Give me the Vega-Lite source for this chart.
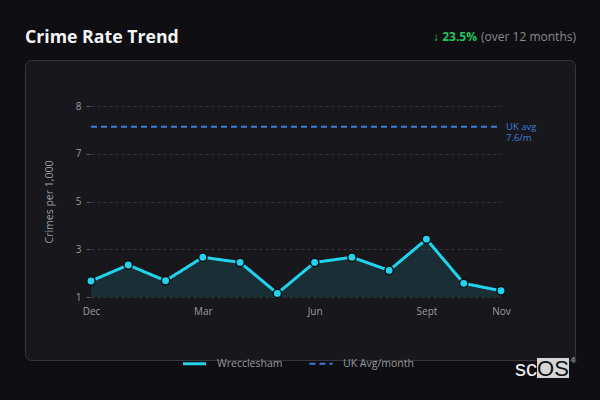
{
  "$schema": "https://vega.github.io/schema/vega-lite/v6.json",
  "width": 550,
  "height": 300,
  "autosize": {"type": "none"},
  "padding": {"left": 25, "top": 60, "right": 25, "bottom": 40},
  "background": "#0e0e13",
  "title": {
    "text": "Crime Rate Trend",
    "anchor": "start",
    "font": "Open Sans",
    "fontSize": 17.7,
    "fontWeight": "bold",
    "color": "#f4f4f5",
    "offset": -16
  },
  "config": {
    "font": "Open Sans",
    "view": {"fill": "#18181c", "stroke": "#37373c", "strokeWidth": 1, "cornerRadius": 6},
    "axis": {
      "labelFont": "Open Sans",
      "labelColor": "#9a9a9e",
      "labelFontSize": 10,
      "titleFont": "Open Sans",
      "titleColor": "#9a9a9e",
      "titleFontSize": 10.5,
      "titleFontWeight": "normal",
      "gridColor": "#34343a",
      "gridDash": [3, 3],
      "gridWidth": 1,
      "tickColor": "#5a5a60",
      "domain": false
    },
    "legend": {
      "orient": "none",
      "legendX": 156,
      "legendY": 290,
      "direction": "horizontal",
      "labelFont": "Open Sans",
      "labelColor": "#9a9a9e",
      "labelFontSize": 10.5,
      "symbolType": "stroke",
      "symbolSize": 530,
      "columnPadding": 22,
      "labelOffset": 9
    }
  },
  "data": {
    "values": [
      {"month": "Dec", "series": "Wrecclesham", "value": 1.62},
      {"month": "Jan", "series": "Wrecclesham", "value": 2.24},
      {"month": "Feb", "series": "Wrecclesham", "value": 1.63},
      {"month": "Mar", "series": "Wrecclesham", "value": 2.54},
      {"month": "Apr", "series": "Wrecclesham", "value": 2.34},
      {"month": "May", "series": "Wrecclesham", "value": 1.14},
      {"month": "Jun", "series": "Wrecclesham", "value": 2.34},
      {"month": "Jul", "series": "Wrecclesham", "value": 2.54},
      {"month": "Aug", "series": "Wrecclesham", "value": 2.03},
      {"month": "Sept", "series": "Wrecclesham", "value": 3.24},
      {"month": "Oct", "series": "Wrecclesham", "value": 1.53},
      {"month": "Nov", "series": "Wrecclesham", "value": 1.24},
      {"month": "Dec", "series": "UK Avg/month", "value": 7.6},
      {"month": "Nov", "series": "UK Avg/month", "value": 7.6, "label": "UK avg\n7.6/m", "change": "↓ 23.5%", "period": "(over 12 months)", "a": "sc", "b": "OS", "r": "®"}
    ]
  },
  "encoding": {
    "x": {
      "field": "month",
      "type": "nominal",
      "title": null,
      "scale": {
        "type": "point",
        "padding": 0,
        "domain": ["Dec", "Jan", "Feb", "Mar", "Apr", "May", "Jun", "Jul", "Aug", "Sept", "Oct", "Nov"],
        "range": [66, 476]
      },
      "axis": {
        "values": ["Dec", "Mar", "Jun", "Sept", "Nov"],
        "offset": -63,
        "ticks": false,
        "grid": false,
        "labelPadding": 9,
        "labelAngle": 0
      }
    },
    "y": {
      "field": "value",
      "type": "quantitative",
      "title": "Crimes per 1,000",
      "scale": {"domain": [1, 8.4], "range": [237, 46], "nice": false, "zero": false},
      "axis": {
        "values": [1, 2.85, 4.7, 6.55, 8.4],
        "format": ".0f",
        "offset": -65,
        "grid": true,
        "ticks": true,
        "tickSize": 4,
        "labelPadding": 5,
        "titlePadding": 21
      }
    }
  },
  "layer": [
    {
      "transform": [{"filter": "datum.series === 'Wrecclesham'"}],
      "mark": {"type": "area", "color": "#22d3ee", "opacity": 0.12},
      "encoding": {"y2": {"datum": 1}}
    },
    {
      "mark": {"type": "line"},
      "encoding": {
        "color": {
          "field": "series",
          "type": "nominal",
          "title": null,
          "scale": {"domain": ["Wrecclesham", "UK Avg/month"], "range": ["#22d3ee", "#3b7ddd"]}
        },
        "strokeDash": {
          "field": "series",
          "type": "nominal",
          "title": null,
          "scale": {"domain": ["Wrecclesham", "UK Avg/month"], "range": [[1, 0], [6, 4]]}
        },
        "strokeWidth": {
          "field": "series",
          "type": "nominal",
          "title": null,
          "scale": {"domain": ["Wrecclesham", "UK Avg/month"], "range": [3, 2]}
        }
      }
    },
    {
      "transform": [{"filter": "datum.series === 'Wrecclesham'"}],
      "mark": {"type": "point", "filled": true, "size": 70, "color": "#22d3ee", "stroke": "#0e0e13", "strokeWidth": 1.5, "opacity": 1}
    },
    {
      "transform": [{"filter": "isValid(datum.label)"}],
      "mark": {"type": "text", "align": "left", "baseline": "middle", "dx": 5, "lineBreak": "\n", "lineHeight": 11.5, "fontSize": 9.5, "color": "#3b7ddd"},
      "encoding": {"text": {"field": "label"}}
    },
    {
      "transform": [{"filter": "isValid(datum.period)"}],
      "mark": {"type": "text", "align": "right", "baseline": "middle", "dx": 75, "dy": -69, "fontSize": 12, "color": "#8a8a8f"},
      "encoding": {"y": {"datum": 8.4}, "text": {"field": "period"}}
    },
    {
      "transform": [{"filter": "isValid(datum.change)"}],
      "mark": {"type": "text", "align": "right", "baseline": "middle", "dx": -24, "dy": -69, "fontSize": 12, "fontWeight": "bold", "color": "#22c55e"},
      "encoding": {"y": {"datum": 8.4}, "text": {"field": "change"}}
    },
    {
      "transform": [{"filter": "isValid(datum.b)"}],
      "mark": {"type": "point", "filled": true, "opacity": 1, "size": 4, "color": "#d6d6d6", "shape": "M 36 61 H 68 V 81 H 36 Z"},
      "encoding": {"y": {"datum": 1}}
    },
    {
      "transform": [{"filter": "isValid(datum.a)"}],
      "mark": {"type": "text", "align": "right", "baseline": "alphabetic", "dx": 36, "dy": 79, "font": "Liberation Sans", "fontSize": 22, "color": "#f0f0f0"},
      "encoding": {"y": {"datum": 1}, "text": {"field": "a"}}
    },
    {
      "transform": [{"filter": "isValid(datum.b)"}],
      "mark": {"type": "text", "align": "center", "baseline": "alphabetic", "dx": 52, "dy": 79, "font": "Liberation Sans", "fontSize": 22, "color": "#111114"},
      "encoding": {"y": {"datum": 1}, "text": {"field": "b"}}
    },
    {
      "transform": [{"filter": "isValid(datum.r)"}],
      "mark": {"type": "text", "align": "left", "baseline": "middle", "dx": 70, "dy": 64, "font": "Liberation Sans", "fontSize": 7, "color": "#cccccc"},
      "encoding": {"y": {"datum": 1}, "text": {"field": "r"}}
    }
  ]
}
